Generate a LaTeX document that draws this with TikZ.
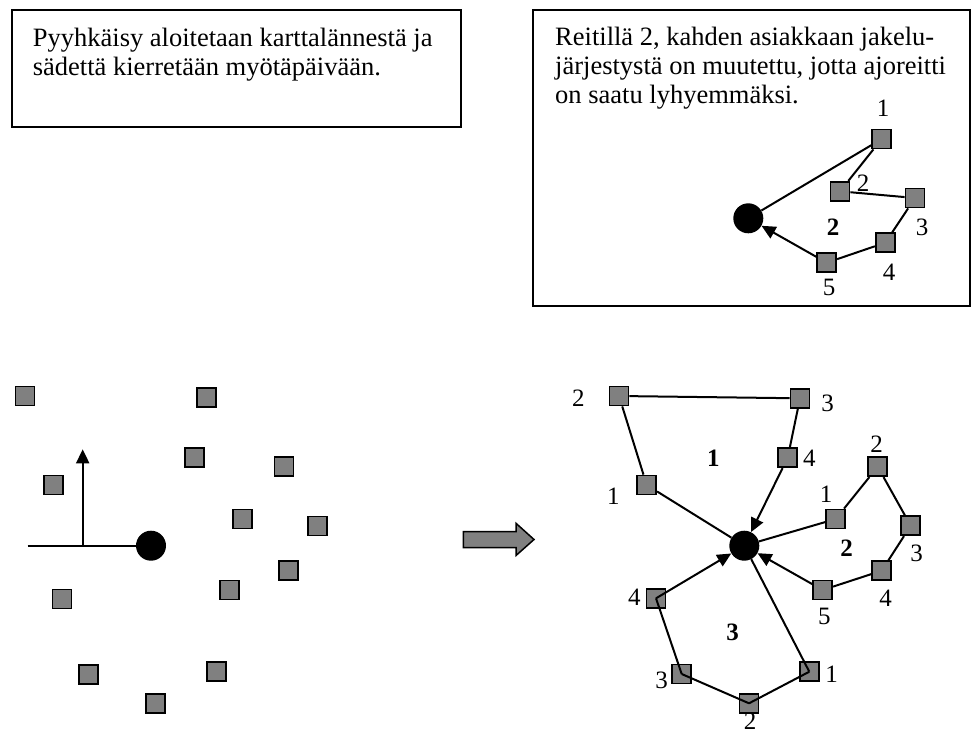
\documentclass[tikz,border=0pt]{standalone}
\usepackage{fontspec}
\setmainfont{Liberation Serif}
\usetikzlibrary{arrows.meta}
\definecolor{custgray}{HTML}{808080}
\begin{document}
\begin{tikzpicture}[x=1pt,y=-1pt,
  cust/.style={draw, fill=custgray, line width=1.8pt, minimum size=19pt, inner sep=0pt},
  depot/.style={circle, fill=black, minimum size=30pt, inner sep=0pt},
  route/.style={line width=2pt},
  toward/.style={route, -{Triangle[length=14pt,width=13pt]}},
  lbl/.style={font=\fontsize{25}{30}\selectfont, inner sep=0pt},
  rnum/.style={font=\fontsize{25}{30}\selectfont\bfseries, inner sep=0pt},
  txt/.style={font=\fontsize{26.5}{30}\selectfont, inner sep=0pt, anchor=base west},
  frame/.style={line width=1.8pt}]
\useasboundingbox (0,0) rectangle (971,736);

% ---- text box, top left ----
\draw[frame] (12,10) rectangle (461,127);
\node[txt] (ta1) at (32.7,46) {Pyyhkäisy aloitetaan karttalännestä ja};
\node[txt] (ta2) at (32.7,75) {sädettä kierretään myötäpäivään.};

% ---- text box, top right, with the reordered route 2 ----
\draw[frame] (533,10) rectangle (970,306);
\node[txt] (tb1) at (555,45) {Reitillä 2, kahden asiakkaan jakelu-};
\node[txt] (tb2) at (555,74) {järjestystä on muutettu, jotta ajoreitti};
\node[txt] (tb3) at (555,103) {on saatu lyhyemmäksi.};

\node[depot] (id) at (748.3,218.3) {};
\node[cust] (i1) at (881.7,139) {};
\node[cust] (i2) at (840,191.3) {};
\node[cust] (i3) at (915,198) {};
\node[cust] (i4) at (885.3,242.7) {};
\node[cust] (i5) at (826.7,262.7) {};
\draw[route] (id) -- (i1);
\draw[route] (i1) -- (i2);
\draw[route] (i2) -- (i3);
\draw[route] (i3) -- (i4);
\draw[route] (i4) -- (i5);
\draw[toward] (i5) -- (id);
\node[lbl] (il1) at (883,108) {1};
\node[lbl] (il2) at (863,183) {2};
\node[lbl] (il3) at (922,227) {3};
\node[lbl] (il4) at (889,272) {4};
\node[lbl] (il5) at (829,287) {5};
\node[rnum] (ir) at (833,227) {2};

% ---- scattered customers and the sweep ray ----
\node[depot] (sd) at (151,545.7) {};
\coordinate (rayend) at (27.7,545.7);
\coordinate (pivot) at (82.7,545.7);
\coordinate (raytip) at (82.7,449.3);
\draw[route] (rayend) -- (sd);
\draw[toward] (pivot) -- (raytip);
\foreach \x/\y [count=\i] in {25/396, 206.7/397.7, 194.3/457.7, 284/466.7, 53.3/485,
  242.3/519, 317.3/526, 288.3/570.7, 229.3/590, 62/599, 88.3/674.3, 216.7/671.7, 155.3/703.3}
  \node[cust] (s\i) at (\x,\y) {};

% ---- block arrow ----
\draw[line width=1.5pt, fill=custgray, line join=miter]
  (463.3,531.7) -- (516,531.7) -- (516,523.3) -- (534,539.5) -- (516,555.5)
  -- (516,547.7) -- (463.3,547.7) -- cycle;

% ---- resulting routes ----
\node[depot] (d) at (744.3,545.7) {};

% route 1
\node[cust] (a1) at (646.7,485) {};
\node[cust] (a2) at (619,396) {};
\node[cust] (a3) at (800,398.3) {};
\node[cust] (a4) at (787.7,457.7) {};
\draw[route] (d) -- (a1);
\draw[route] (a1) -- (a2);
\draw[route] (a2) -- (a3);
\draw[route] (a3) -- (a4);
\draw[toward] (a4) -- (d);
\node[lbl] (al1) at (613.3,496) {1};
\node[lbl] (al2) at (578.3,398.3) {2};
\node[lbl] (al3) at (827.7,403.3) {3};
\node[lbl] (al4) at (809.3,458.3) {4};
\node[rnum] (ar) at (713.3,458.3) {1};

% route 2
\node[cust] (b1) at (835.7,519) {};
\node[cust] (b2) at (877.7,466.7) {};
\node[cust] (b3) at (910.7,525.7) {};
\node[cust] (b4) at (881.7,570.7) {};
\node[cust] (b5) at (822.7,590) {};
\draw[route] (d) -- (b1);
\draw[route] (b1) -- (b2);
\draw[route] (b2) -- (b3);
\draw[route] (b3) -- (b4);
\draw[route] (b4) -- (b5);
\draw[toward] (b5) -- (d);
\node[lbl] (bl1) at (826,494) {1};
\node[lbl] (bl2) at (876.7,444) {2};
\node[lbl] (bl3) at (916.7,553.3) {3};
\node[lbl] (bl4) at (885.7,598.3) {4};
\node[lbl] (bl5) at (824.3,616) {5};
\node[rnum] (br) at (846.7,548.3) {2};

% route 3 (lines run into the squares)
\node[cust] (c1) at (809.3,671.7) {};
\node[cust] (c2) at (749,703.3) {};
\node[cust] (c3) at (681.7,674) {};
\node[cust] (c4) at (656,598.3) {};
\draw[route] (d) -- (c1.center);
\draw[route] (c1.center) -- (c2.center);
\draw[route] (c2.center) -- (c3.center);
\draw[route] (c3.center) -- (c4.center);
\draw[toward] (c4.center) -- (d);
\node[lbl] (cl1) at (831.7,674) {1};
\node[lbl] (cl2) at (750,721.5) {2};
\node[lbl] (cl3) at (661.7,680) {3};
\node[lbl] (cl4) at (634.3,597.3) {4};
\node[rnum] (cr) at (732.7,632.7) {3};
\end{tikzpicture}
\end{document}
